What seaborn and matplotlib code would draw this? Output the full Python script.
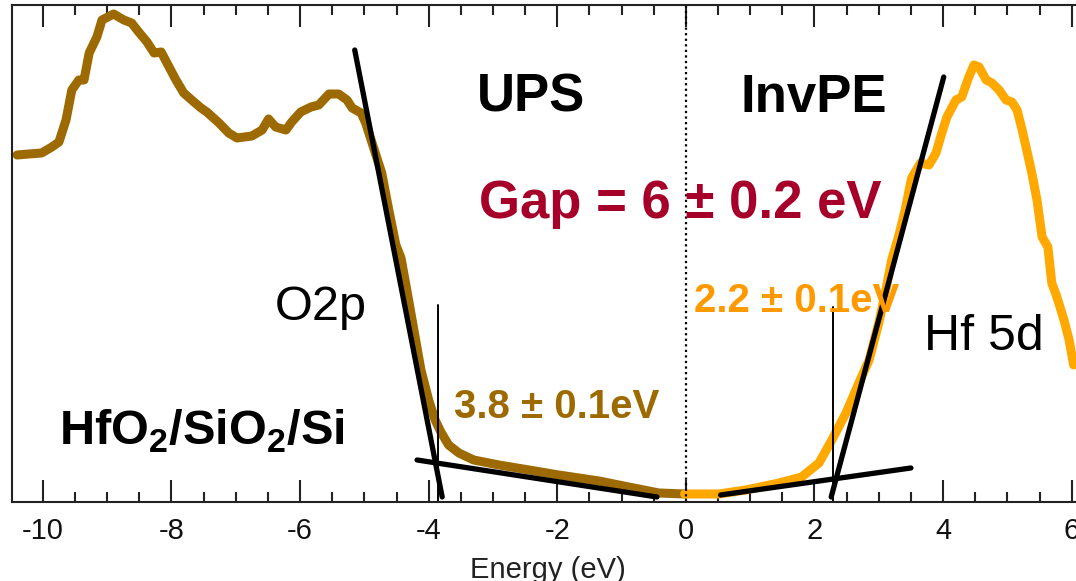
import matplotlib
matplotlib.use("Agg")
import matplotlib.pyplot as plt
from matplotlib.ticker import MultipleLocator
import pandas as pd
import seaborn as sns

# UPS spectrum (valence band), energy in eV vs intensity (arb. units)
ups_energy = [-10.40, -10.22, -10.02, -9.86, -9.75, -9.64, -9.55, -9.44, -9.36, -9.28,
              -9.16, -9.08, -8.90, -8.74, -8.62, -8.51, -8.38, -8.27, -8.16, -8.07,
              -7.93, -7.81, -7.65, -7.54, -7.45, -7.26, -7.11, -6.98, -6.75, -6.59,
              -6.49, -6.38, -6.22, -6.13, -5.99, -5.83, -5.71, -5.55, -5.40, -5.27,
              -5.19, -5.05, -4.98, -4.88, -4.73, -4.62, -4.51, -4.43, -4.34, -4.23,
              -4.12, -4.00, -3.90, -3.81, -3.69, -3.53, -3.30, -2.91, -2.44, -1.98,
              -1.35, -0.89, -0.42, -0.02]
ups_intensity = [347, 348, 349, 355, 360, 382, 412, 422, 422, 449,
                 465, 482, 488, 482, 479, 470, 460, 449, 450, 439,
                 422, 409, 400, 394, 390, 379, 369, 364, 366, 372,
                 383, 375, 372, 380, 390, 395, 397, 408, 408, 402,
                 394, 389, 379, 359, 329, 292, 257, 244, 212, 172,
                 132, 102, 82, 70, 57, 49, 42, 37, 32, 27,
                 21, 15, 9, 8]

# InvPE spectrum (conduction band)
ipe_energy = [-0.02, 0.51, 0.93, 1.45, 1.80, 2.07, 2.27, 2.49, 2.69, 2.85,
              3.00, 3.11, 3.20, 3.31, 3.41, 3.51, 3.65, 3.78, 3.89, 3.98,
              4.06, 4.20, 4.29, 4.40, 4.48, 4.56, 4.67, 4.76, 4.87, 4.98,
              5.07, 5.15, 5.23, 5.30, 5.38, 5.46, 5.54, 5.63, 5.69, 5.77,
              5.88, 5.96, 6.03]
ipe_intensity = [8, 8, 12, 19, 25, 39, 62, 89, 119, 142,
                 179, 212, 242, 266, 292, 324, 339, 337, 349, 369,
                 385, 402, 405, 425, 437, 435, 422, 419, 412, 402,
                 400, 392, 372, 352, 329, 302, 265, 255, 219, 205,
                 182, 162, 137]

# linear extrapolation lines (x pair, y pair)
fit_lines = [
    ([-5.15, -3.79], [452, 5]),   # VB leading edge
    ([-4.18, -0.45], [42, 5]),    # VB background
    ([0.54, 3.50], [7, 34]),      # CB background
    ([2.26, 4.01], [5, 425]),     # CB leading edge
]
onsets = [-3.86, 2.29]
onset_top = [197, 195]

ups_color = "#9C6A00"
ipe_color = "#FFA800"

sns.set_style("ticks")
plt.rcParams["font.family"] = ["Liberation Sans", "DejaVu Sans"]
plt.rcParams["text.color"] = "black"
plt.rcParams["axes.unicode_minus"] = False
plt.rcParams["mathtext.fontset"] = "custom"
plt.rcParams["mathtext.rm"] = "Liberation Sans"
plt.rcParams["mathtext.bf"] = "Liberation Sans:bold"

df_ups = pd.DataFrame({"energy": ups_energy, "intensity": ups_intensity})
df_ipe = pd.DataFrame({"energy": ipe_energy, "intensity": ipe_intensity})

fig = plt.figure(figsize=(10.76, 5.81), dpi=100)
ax = fig.add_axes([0.01115, 0.136, 0.9968, 0.8554])

sns.lineplot(data=df_ups, x="energy", y="intensity", color=ups_color, lw=6.5,
             sort=False, ax=ax, solid_capstyle="round", solid_joinstyle="round")
sns.lineplot(data=df_ipe, x="energy", y="intensity", color=ipe_color, lw=6.5,
             sort=False, ax=ax, solid_capstyle="round", solid_joinstyle="round")

for xs, ys in fit_lines:
    ax.plot(xs, ys, color="black", lw=3.8, solid_capstyle="round")
for x0, top in zip(onsets, onset_top):
    ax.plot([x0, x0], [0, top], color="black", lw=1.4)

ax.axvline(0, color="black", ls=(0, (1, 1.5)), lw=1.6)

ax.set_xlim(-10.48, 6.2)
ax.set_ylim(0, 497)
ax.xaxis.set_major_locator(MultipleLocator(2))
ax.xaxis.set_minor_locator(MultipleLocator(0.5))
ax.tick_params(axis="x", which="major", direction="in", length=15.5, width=1.5,
               top=True, labelsize=21, pad=11, labelcolor="#111111", color="#222222")
ax.tick_params(axis="x", which="minor", direction="in", length=7.5, width=1.5,
               top=True, color="#222222")
ax.set_yticks([])
ax.set_ylabel("")
ax.set_xlabel("Energy (eV)", fontsize=21, labelpad=8, color="#222222")
for side in ["left", "bottom", "top"]:
    ax.spines[side].set_linewidth(1.5)
    ax.spines[side].set_color("#222222")
ax.spines["right"].set_visible(False)

ax.text(-2.41, 390, "UPS", fontsize=38, fontweight="bold", ha="center", va="baseline")
ax.text(1.99, 390, "InvPE", fontsize=38, fontweight="bold", ha="center", va="baseline")
ax.text(-0.09, 284, "Gap = 6 \u00b1 0.2 eV", fontsize=38, fontweight="bold",
        color="#A6002A", ha="center", va="baseline")
ax.text(-6.39, 182, "O2p", fontsize=35, ha="left", va="baseline")
ax.text(3.70, 152, "Hf 5d", fontsize=36, ha="left", va="baseline")
ax.text(-3.61, 84, "3.8 \u00b1 0.1eV", fontsize=29, fontweight="bold",
        color=ups_color, ha="left", va="baseline")
ax.text(0.12, 190, "2.2 \u00b1 0.1eV", fontsize=29, fontweight="bold",
        color="#FF9900", ha="left", va="baseline")
ax.text(-9.75, 57, r"HfO$_\mathbf{2}$/SiO$_\mathbf{2}$/Si", fontsize=35,
        fontweight="bold", ha="left", va="baseline")

fig.savefig("out.png", dpi=100)
